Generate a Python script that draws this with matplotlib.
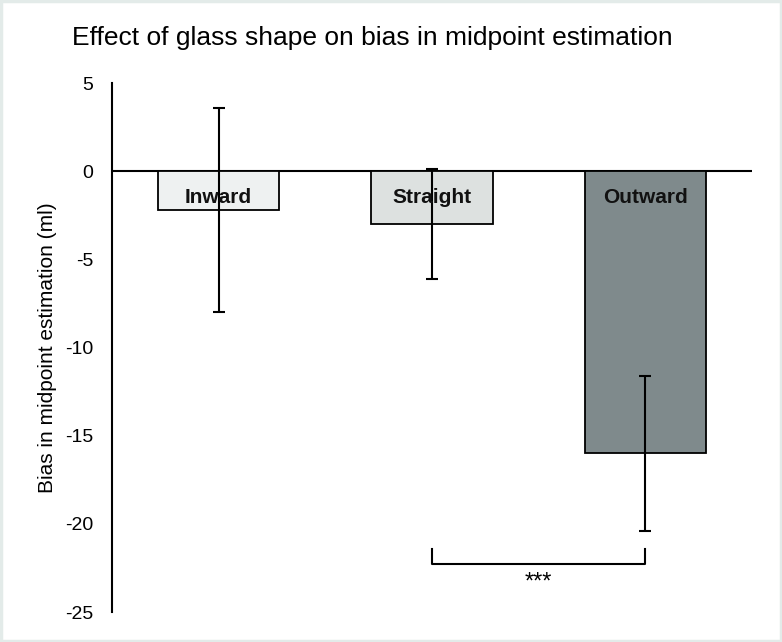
import numpy as np
import matplotlib.pyplot as plt
from matplotlib.patches import Rectangle

plt.rcParams['font.family'] = ['Liberation Sans', 'DejaVu Sans']
plt.rcParams['axes.unicode_minus'] = False

# Daten
categories = ["Inward", "Straight", "Outward"]
bias = [-2.2, -3.0, -16.0]
err = [5.8, 3.1, 4.4]
colors = ["#eef1f1", "#dde1e0", "#7f8a8c"]

fig = plt.figure(figsize=(7.82, 6.42), dpi=100)
ax = fig.add_axes([0.1432, 0.0467, 0.8184, 0.824])

x = np.arange(len(categories))
ax.bar(x, bias, width=0.57, color=colors, edgecolor="black", linewidth=1.3, zorder=2)
ax.errorbar(x, bias, yerr=err, fmt="none", ecolor="black", elinewidth=1.5,
            capsize=4.5, capthick=1.5, zorder=3)

# Beschriftung in den Balken
for xi, name in zip(x, categories):
    ax.text(xi, -1.5, name, ha="center", va="center", fontsize=15,
            fontweight="bold", color="#111111", zorder=4)

# Nulllinie
ax.axhline(0, color="black", linewidth=1.5, zorder=1)

# Signifikanz-Klammer
sig_y = -22.3
ax.plot([1, 1, 2, 2], [-21.4, sig_y, sig_y, -21.4], color="black", lw=1.5, zorder=3)
ax.text(1.5, -23.3, "***", ha="center", va="center", fontsize=17)

ax.set_xlim(-0.5, 2.5)
ax.set_ylim(-25, 5)
ax.set_yticks(np.arange(-25, 6, 5))
ax.set_xticks([])
ax.tick_params(axis="y", length=0, labelsize=14, pad=13.5)
for s in ["top", "right", "bottom"]:
    ax.spines[s].set_visible(False)
ax.spines["left"].set_linewidth(1.5)
ax.set_ylabel("Bias in midpoint estimation (ml)", fontsize=15, labelpad=6)

fig.text(0.092, 0.941, "Effect of glass shape on bias in midpoint estimation",
         fontsize=19, ha="left", va="center")

# Rahmen
fig.patches.append(Rectangle((0.0015, 0.0015), 0.997, 0.997, transform=fig.transFigure,
                             fill=False, edgecolor="#e3ebe9", linewidth=2.5))

fig.savefig("out.png", dpi=100)
